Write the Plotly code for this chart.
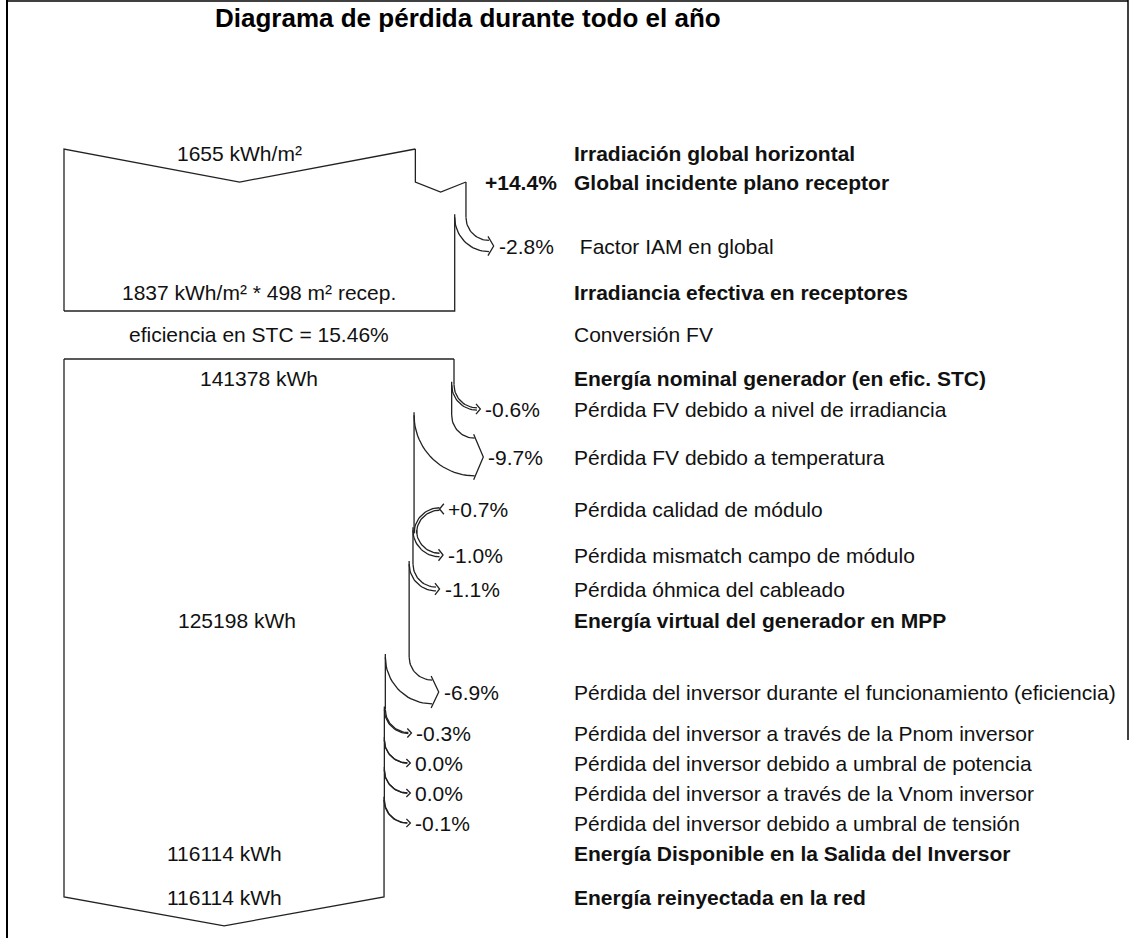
import numpy as np
import plotly.graph_objects as go

# Diagrama de perdidas anual (informe PVsyst)
titulo = "Diagrama de pérdida durante todo el año"

etiquetas = [
    "Irradiación global horizontal",
    "Global incidente plano receptor",
    " Factor IAM en global",
    "Irradiancia efectiva en receptores",
    "Conversión FV",
    "Energía nominal generador (en efic. STC)",
    "Pérdida FV debido a nivel de irradiancia",
    "Pérdida FV debido a temperatura",
    "Pérdida calidad de módulo",
    "Pérdida mismatch campo de módulo",
    "Pérdida óhmica del cableado",
    "Energía virtual del generador en MPP",
    "Pérdida del inversor durante el funcionamiento (eficiencia)",
    "Pérdida del inversor a través de la Pnom inversor",
    "Pérdida del inversor debido a umbral de potencia",
    "Pérdida del inversor a través de la Vnom inversor",
    "Pérdida del inversor debido a umbral de tensión",
    "Energía Disponible en la Salida del Inversor",
    "Energía reinyectada en la red",
]

# variacion en % de cada paso (None = fila sin flecha)
variacion = [None, 14.4, -2.8, None, None, None, -0.6, -9.7, 0.7, -1.0, -1.1,
             None, -6.9, -0.3, 0.0, 0.0, -0.1, None, None]

# totales
irradiacion_horizontal = 1655   # kWh/m2
irradiancia_efectiva = 1837     # kWh/m2
area_receptores = 498           # m2
eficiencia_stc = 15.46          # %
energia_nominal = 141378        # kWh
energia_mpp = 125198            # kWh
energia_salida = 116114         # kWh
energia_red = 116114            # kWh

# ---- disposicion (pixeles de la pagina) ----
W, H = 1135, 938
fila_y = [153, 182, 246, 292, 334, 378, 409, 457, 509, 555, 589, 620,
          692, 733, 763, 793, 823, 853, 897]
filas_negrita = [0, 1, 3, 5, 11, 17, 18]
x0 = 64            # borde izquierdo del flujo
ancho_ref = 390    # ancho de la banda para 1837 kWh/m2 y 141378 kWh
y_top1, y_bot1 = 149, 311
y_top2 = 359
r_in = 23
x_texto = 572
fuente = "Liberation Sans, Arial, sans-serif"
tam = 21

esc1 = ancho_ref / irradiancia_efectiva
esc2 = ancho_ref / energia_nominal

lineas = []   # lista de polilineas
pct_txt = []  # posicion de cada texto de %


def arco(cx, cy, r, a0, a1, n=24):
    t = np.linspace(a0, a1, n)
    return list(zip(cx + r * np.cos(t), cy + r * np.sin(t)))


def flecha(x_old, x_new, yl):
    w = abs(x_new - x_old)
    h = 3 + 0.15 * w
    if x_new <= x_old:
        # perdida: sale hacia abajo-derecha
        xt = x_old + r_in
        y0 = yl - r_in - w / 2
        lineas.append(arco(xt, y0, r_in + w, np.pi, np.pi / 2))
        lineas.append(arco(xt, y0, r_in, np.pi, np.pi / 2))
        lineas.append([(xt - 1, y0 + r_in - 4), (xt + h, yl), (xt - 1, y0 + r_in + w + 4)])
        pct_txt.append((xt + h + 3, yl))
        return y0, y0 - 3
    else:
        # ganancia: entra desde arriba-derecha
        xt = x_new + r_in
        y1 = yl + r_in + w / 2
        lineas.append(arco(xt, y1, r_in + w, np.pi, 1.5 * np.pi))
        lineas.append(arco(xt, y1, r_in, np.pi, 1.5 * np.pi))
        lineas.append([(xt + h + 1, y1 - r_in - w - 4), (xt, yl), (xt + h + 1, y1 - r_in + 4)])
        pct_txt.append((xt + h + 3, yl))
        return y1, y1


# ---- seccion 1: irradiacion ----
w = irradiacion_horizontal * esc1
lineas.append([(x0, y_bot1), (x0, y_top1), (x0 + w / 2, y_top1 + 0.094 * w), (x0 + w, y_top1)])
xc = x0 + w
valor = irradiacion_horizontal
# transposicion (+14.4%) como muesca
valor *= 1 + variacion[1] / 100
xn = x0 + valor * esc1
yn = fila_y[1]
lineas.append([(xc, y_top1), (xc, yn), ((xc + xn) / 2, yn + 10), (xn, yn)])
pct_txt.append(None)
xc, y_ini = xn, yn
# IAM
valor *= 1 + variacion[2] / 100
xn = x0 + valor * esc1
y_fin, y_sig = flecha(xc, xn, fila_y[2])
lineas.append([(xc, y_ini), (xc, y_fin)])
xc = xn
lineas.append([(xc, y_sig), (xc, y_bot1), (x0, y_bot1)])

# ---- seccion 2: energia ----
valor = energia_nominal
xc = x0 + valor * esc2
lineas.append([(x0, y_top2), (xc, y_top2)])
y_ini = y_top2
pos_pct = {}
for i in range(6, len(variacion)):
    if variacion[i] is None:
        continue
    valor *= 1 + variacion[i] / 100
    xn = x0 + valor * esc2
    y_fin, y_sig = flecha(xc, xn, fila_y[i])
    lineas.append([(xc, y_ini), (xc, y_fin)])
    xc, y_ini = xn, y_sig
    pos_pct[i] = pct_txt[-1]

w_fin = energia_red * esc2
y_bot2 = fila_y[18]
lineas.append([(xc, y_ini), (xc, y_bot2), (x0 + w_fin / 2, y_bot2 + 0.09 * w_fin),
               (x0, y_bot2), (x0, y_top2)])

pos_pct[2] = pct_txt[1]

xs, ys = [], []
for pl in lineas:
    for p in pl:
        xs.append(p[0])
        ys.append(p[1])
    xs.append(None)
    ys.append(None)

fig = go.Figure()
fig.add_trace(go.Scatter(x=xs, y=ys, mode="lines", line=dict(color="#222", width=1.3),
                         hoverinfo="skip", showlegend=False))

# textos de la derecha
for i, t in enumerate(etiquetas):
    txt = "<b>" + t + "</b>" if i in filas_negrita else t
    fig.add_annotation(x=x_texto, y=fila_y[i], text=txt, xanchor="left", yanchor="middle",
                       showarrow=False, font=dict(family=fuente, size=tam, color="#111"))

# porcentajes
for i, v in enumerate(variacion):
    if v is None:
        continue
    s = "%+.1f%%" % v if v != 0 else "0.0%"
    if i == 1:
        fig.add_annotation(x=x_texto - 13, y=fila_y[i], text="<b>" + s + "</b>", xanchor="right",
                           yanchor="middle", showarrow=False,
                           font=dict(family=fuente, size=tam, color="#111"))
    else:
        px, py = pos_pct[i]
        fig.add_annotation(x=px, y=py, text=s, xanchor="left", yanchor="middle", showarrow=False,
                           font=dict(family=fuente, size=tam, color="#111"))

# totales a la izquierda, centrados en la banda
totales = [
    (0, "%d kWh/m²" % irradiacion_horizontal, irradiacion_horizontal * esc1),
    (3, "%d kWh/m² * %d m² recep." % (irradiancia_efectiva, area_receptores), irradiancia_efectiva * esc1),
    (4, "eficiencia en STC = %.2f%%" % eficiencia_stc, irradiancia_efectiva * esc1),
    (5, "%d kWh" % energia_nominal, energia_nominal * esc2),
    (11, "%d kWh" % energia_mpp, energia_mpp * esc2),
    (17, "%d kWh" % energia_salida, energia_salida * esc2),
    (18, "%d kWh" % energia_red, energia_red * esc2),
]
for i, t, wb in totales:
    fig.add_annotation(x=x0 + wb / 2, y=fila_y[i], text=t, xanchor="center", yanchor="middle",
                       showarrow=False, font=dict(family=fuente, size=tam, color="#111"))

fig.add_annotation(x=213, y=18, text="<b>" + titulo + "</b>", xanchor="left", yanchor="middle",
                   showarrow=False, font=dict(family=fuente, size=26, color="#000"))

# marco de la pagina
fig.add_shape(type="line", x0=7, x1=7, y0=0, y1=H, line=dict(color="#000", width=2))
fig.add_shape(type="line", x0=7, x1=1128, y0=1, y1=1, line=dict(color="#000", width=1.5))
fig.add_shape(type="line", x0=1128, x1=1128, y0=0, y1=740, line=dict(color="#000", width=1.5))

fig.update_xaxes(range=[0, W], visible=False)
fig.update_yaxes(range=[H, 0], visible=False)
fig.update_layout(width=W, height=H, margin=dict(l=0, r=0, t=0, b=0),
                  plot_bgcolor="white", paper_bgcolor="white")

# sin margen del body para que la figura empiece en (0, 0)
fig.write_html("out.html", config={"displayModeBar": False},
               post_script="document.body.style.margin='0';")
